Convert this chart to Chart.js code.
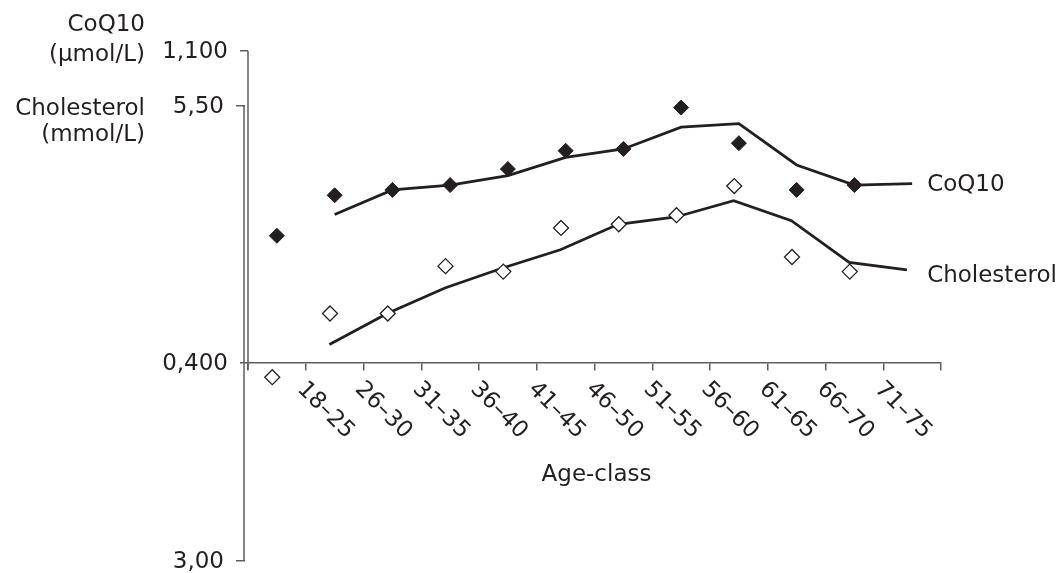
<!DOCTYPE html>
<html>
<head>
<meta charset="utf-8">
<script src="https://cdn.jsdelivr.net/npm/chart.js@4"></script>
<style>
  html, body { margin: 0; padding: 0; background: #fff; }
  canvas { display: block; }
</style>
</head>
<body>
<canvas id="chart" width="1062" height="573"></canvas>
<script>
// age classes on the x axis
const ageClasses = ['18–25', '26–30', '31–35', '36–40', '41–45', '46–50', '51–55', '56–60', '61–65', '66–70', '71–75'];

// CoQ10 (µmol/L): measured points and the drawn trend line
const coq10 = [0.685, 0.776, 0.788, 0.799, 0.835, 0.876, 0.880, 0.973, 0.893, 0.788, 0.799];
const coq10Trend = [0.733, 0.788, 0.799, 0.820, 0.861, 0.880, 0.929, 0.937, 0.844, 0.799, 0.802];

// cholesterol (mmol/L): measured points and the drawn trend line
const cholesterol = [4.01, 4.36, 4.36, 4.62, 4.59, 4.83, 4.85, 4.90, 5.06, 4.67, 4.59];
const cholesterolTrend = [4.19, 4.36, 4.50, 4.61, 4.71, 4.85, 4.89, 4.98, 4.87, 4.64, 4.60];

// labelled ticks on the two value axes
const coq10Ticks = [0.4, 1.1];
const cholesterolTicks = [3.0, 5.5];

const ink = '#231f20';
const axisGrey = '#5e5e5e';
const family = "'DejaVu Sans', Verdana, sans-serif";
const fontPx = 23;
const cholShift = -0.08;   // the open diamonds sit a little left of the category centre

function toPoints(values, offset) {
  return values.map((v, i) => ({ x: i + offset, y: v }));
}

const commaFmt = (v, digits) => Number(v).toFixed(digits).replace('.', ',');

// axis lines, tick labels, rotated age labels and the other texts
const decor = {
  id: 'decor',
  afterDraw(chart) {
    const { ctx, scales: { x, y1, y2 } } = chart;
    const axisY = y1.getPixelForValue(coq10Ticks[0]);
    ctx.save();
    ctx.strokeStyle = axisGrey;
    ctx.lineWidth = 1.5;
    ctx.beginPath();
    ctx.moveTo(y1.right, y1.getPixelForValue(coq10Ticks[1]));
    ctx.lineTo(y1.right, axisY + 7);
    ctx.moveTo(y2.right - 1, y2.getPixelForValue(cholesterolTicks[1]));
    ctx.lineTo(y2.right - 1, y2.getPixelForValue(cholesterolTicks[0]));
    ctx.stroke();

    ctx.fillStyle = ink;
    ctx.font = fontPx + 'px ' + family;

    // value tick labels, decimal comma
    ctx.textAlign = 'right';
    ctx.textBaseline = 'middle';
    y1.ticks.forEach(t => ctx.fillText(commaFmt(t.value, 3), y1.right - 20, y1.getPixelForValue(t.value) + 1));
    y2.ticks.forEach(t => ctx.fillText(commaFmt(t.value, 2), y2.right - 21, y2.getPixelForValue(t.value) + 1));

    // age classes, written downwards at 45 degrees
    ageClasses.forEach((lab, i) => {
      const px = x.getPixelForValue(i + 1);
      ctx.save();
      ctx.translate(px - 5, axisY + 23);
      ctx.rotate(Math.PI / 4);
      ctx.textAlign = 'left';
      ctx.textBaseline = 'middle';
      ctx.fillText(lab, 0, 0);
      ctx.restore();
    });

    ctx.textAlign = 'center';
    ctx.textBaseline = 'alphabetic';
    ctx.fillText('Age-class', (x.left + x.right) / 2 + 2, axisY + 118);

    // axis titles on the left
    const tx = chart.chartArea.left - 103;
    ctx.textAlign = 'right';
    const top1 = y1.getPixelForValue(coq10Ticks[1]);
    ctx.fillText('CoQ10', tx, top1 - 20);
    ctx.fillText('(µmol/L)', tx, top1 + 10);
    const top2 = y2.getPixelForValue(cholesterolTicks[1]);
    ctx.fillText('Cholesterol', tx, top2 + 9);
    ctx.fillText('(mmol/L)', tx, top2 + 35);

    // series names at the line ends
    ctx.textAlign = 'left';
    ctx.textBaseline = 'middle';
    const lx = x.getPixelForValue(ageClasses.length + 0.5) + 15;
    ctx.fillText('CoQ10', lx, y1.getPixelForValue(coq10Trend[coq10Trend.length - 1]) + 1);
    ctx.fillText('Cholesterol', lx, y2.getPixelForValue(cholesterolTrend[cholesterolTrend.length - 1]) + 6);
    ctx.restore();
  }
};

new Chart(document.getElementById('chart'), {
  type: 'scatter',
  data: {
    datasets: [
      {
        label: 'CoQ10',
        data: toPoints(coq10, 0.5),
        yAxisID: 'y1',
        pointStyle: 'rectRot',
        pointRadius: 7.5,
        backgroundColor: ink,
        borderColor: ink,
        borderWidth: 1
      },
      {
        label: 'CoQ10 trend',
        data: toPoints(coq10Trend, 1.5),
        yAxisID: 'y1',
        showLine: true,
        pointRadius: 0,
        borderColor: ink,
        borderWidth: 2.8
      },
      {
        label: 'Cholesterol',
        data: toPoints(cholesterol, 0.5 + cholShift),
        yAxisID: 'y2',
        pointStyle: 'rectRot',
        pointRadius: 7.5,
        backgroundColor: '#fff',
        borderColor: ink,
        borderWidth: 1.3
      },
      {
        label: 'Cholesterol trend',
        data: toPoints(cholesterolTrend, 1.5 + cholShift - 0.01),
        yAxisID: 'y2',
        showLine: true,
        pointRadius: 0,
        borderColor: ink,
        borderWidth: 2.8
      }
    ]
  },
  options: {
    responsive: false,
    devicePixelRatio: 1,
    animation: false,
    layout: { padding: { top: 51, bottom: 12, left: 185, right: 121 } },
    plugins: { legend: { display: false }, tooltip: { enabled: false } },
    scales: {
      x: {
        type: 'linear',
        min: 0,
        max: ageClasses.length + 1,
        position: { y1: coq10Ticks[0] },
        afterBuildTicks: (s) => { s.ticks = Array.from({ length: ageClasses.length + 2 }, (_, i) => ({ value: i })); },
        ticks: { display: false },
        grid: { drawOnChartArea: false, drawTicks: true, tickLength: 7, color: axisGrey, lineWidth: 1.5 },
        border: { color: axisGrey, width: 1.5 }
      },
      y1: {
        type: 'linear',
        position: 'left',
        weight: 0,
        min: -0.0453,
        max: 1.1,
        afterBuildTicks: (s) => { s.ticks = coq10Ticks.map(v => ({ value: v })); },
        afterFit: (s) => { s.width = 3; },
        ticks: { display: false },
        grid: { drawOnChartArea: false, drawTicks: true, tickLength: 8, color: axisGrey, lineWidth: 1.5 },
        border: { display: false }
      },
      y2: {
        type: 'linear',
        position: 'left',
        weight: 1,
        min: 3.0,
        max: 5.802,
        afterBuildTicks: (s) => { s.ticks = cholesterolTicks.map(v => ({ value: v })); },
        afterFit: (s) => { s.width = 60; },
        ticks: { display: false },
        grid: { drawOnChartArea: false, drawTicks: true, tickLength: 9, color: axisGrey, lineWidth: 1.5 },
        border: { display: false }
      }
    }
  },
  plugins: [decor]
});
</script>
</body>
</html>
